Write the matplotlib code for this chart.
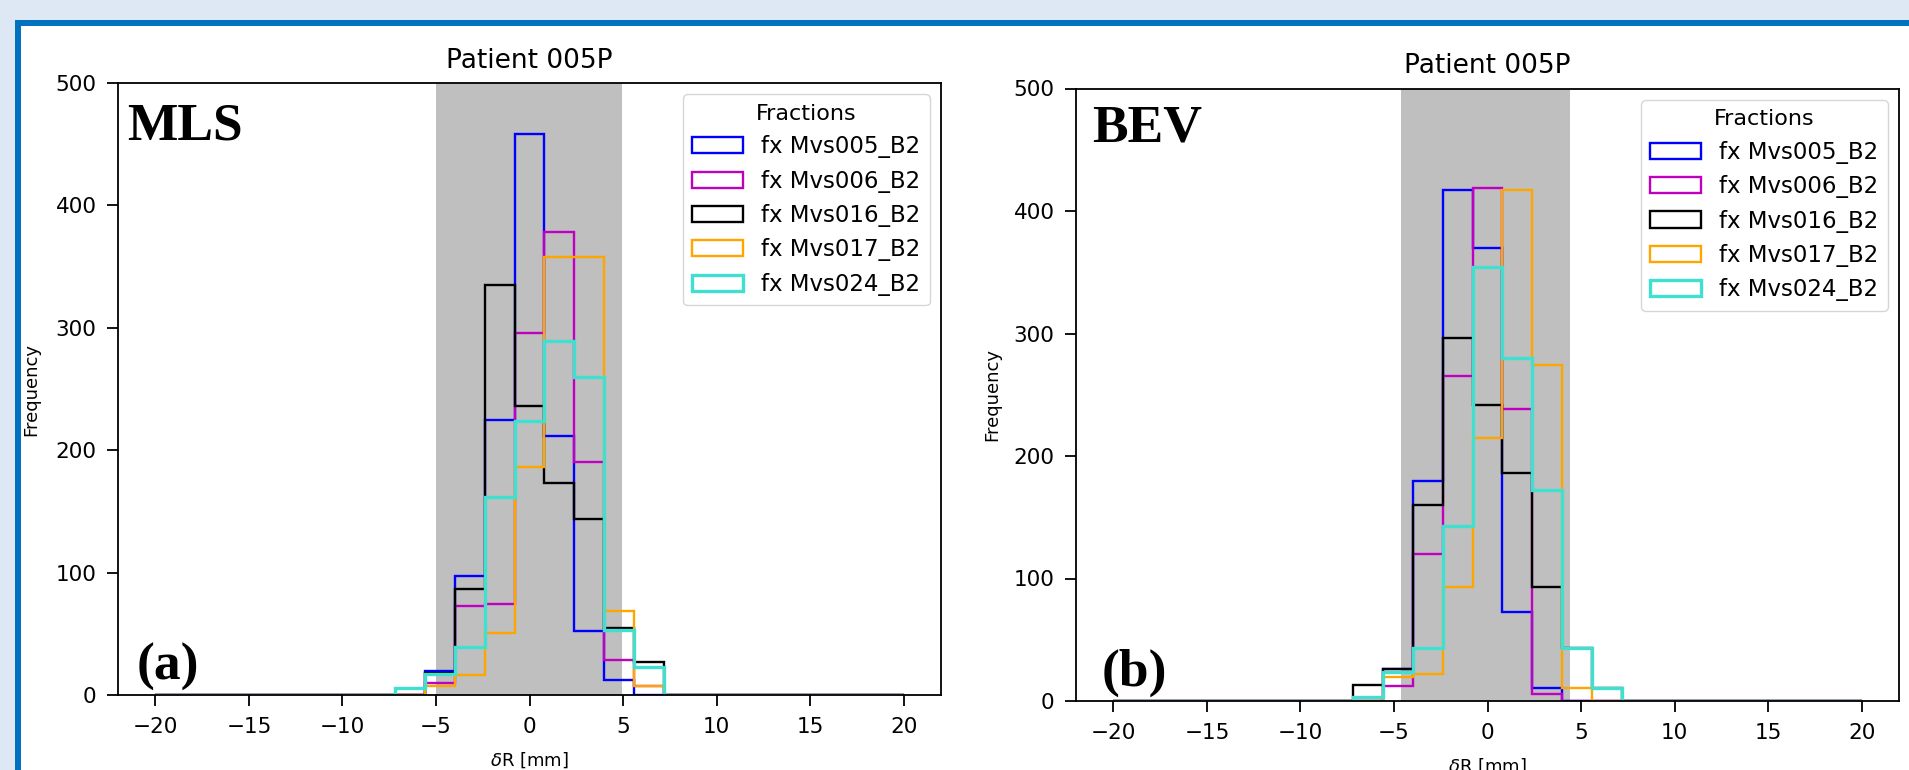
import numpy as np
import matplotlib
matplotlib.use("Agg")
import matplotlib.pyplot as plt
from matplotlib.patches import Rectangle

W, H = 1909, 770

# 25 bins from -20 to 20 mm (width 1.6)
edges = np.linspace(-20, 20, 26)
centers = (edges[:-1] + edges[1:]) / 2

fractions = ["fx Mvs005_B2", "fx Mvs006_B2", "fx Mvs016_B2", "fx Mvs017_B2", "fx Mvs024_B2"]
colors = ["blue", "m", "black", "orange", "turquoise"]

# counts for the non-empty bins, from -7.2 to 7.2 mm (bin index 8..16)
mls_counts = [
    [0, 20, 97, 225, 458, 212, 52, 12, 0],
    [0, 10, 73, 74, 296, 378, 190, 29, 7],
    [0, 18, 87, 335, 236, 173, 144, 55, 27],
    [0, 7, 16, 51, 186, 358, 358, 69, 7],
    [6, 17, 39, 162, 224, 289, 260, 53, 23],
]
bev_counts = [
    [0, 26, 180, 417, 370, 73, 11, 0, 0],
    [0, 12, 120, 265, 419, 238, 6, 0, 0],
    [13, 26, 160, 296, 242, 186, 93, 43, 11],
    [0, 20, 22, 93, 215, 417, 274, 11, 0],
    [3, 24, 43, 143, 354, 280, 172, 43, 11],
]
first_bin = 8

mls_band = (-5.0, 4.95)
bev_band = (-4.62, 4.43)


def full(c):
    out = np.zeros(len(centers))
    out[first_bin:first_bin + len(c)] = c
    return out


def px(x, y):
    return x / W, 1 - y / H


fig = plt.figure(figsize=(W / 100, H / 100), dpi=100)
fig.patch.set_facecolor("#dde8f4")
# white card with blue frame, only top and left edges fall inside the image
fig.add_artist(Rectangle((18 / W, -1.0), 3000 / W, 2 - 23 / H, transform=fig.transFigure,
                         facecolor="white", edgecolor="#0070c0", lw=4.3, zorder=-1))


def panel(rect, counts, band, ylabel_pad):
    ax = fig.add_axes(rect)
    ax.axvspan(band[0], band[1], color="gray", alpha=0.5, lw=0, zorder=0)
    for c, col, lab in zip(counts, colors, fractions):
        lw = 2.4 if col == "turquoise" else 1.7
        ax.hist(centers, bins=edges, weights=full(c), histtype="step",
                color=col, label=lab, linewidth=lw)
    ax.set_xlim(-22, 22)
    ax.set_ylim(0, 500)
    ax.set_title("Patient 005P", fontsize=19, pad=11)
    ax.set_xlabel(r"$\delta$R [mm]", fontsize=13, labelpad=10)
    ax.set_ylabel("Frequency", fontsize=13, labelpad=ylabel_pad)
    ax.tick_params(labelsize=15.5, length=8, width=1.3, pad=7.5)
    for s in ax.spines.values():
        s.set_linewidth(1.3)
    ax.legend(title="Fractions", loc="upper right", fontsize=16.5,
              title_fontsize=16, handlelength=2.2)
    return ax


ax1 = panel([118 / W, 1 - 695 / H, 823 / W, 612 / H], mls_counts, mls_band, 11)
ax2 = panel([1076 / W, 1 - 701 / H, 823 / W, 612.5 / H], bev_counts, bev_band, 9)

serif = dict(family="Liberation Serif", weight="bold", fontsize=38.5, va="baseline")
fig.text(*px(127, 139), "MLS", **serif)
fig.text(*px(137, 680), "(a)", **serif)
fig.text(*px(1092, 142), "BEV", **serif)
fig.text(*px(1102, 686), "(b)", **serif)

fig.savefig("out.png", dpi=100, facecolor=fig.get_facecolor())
